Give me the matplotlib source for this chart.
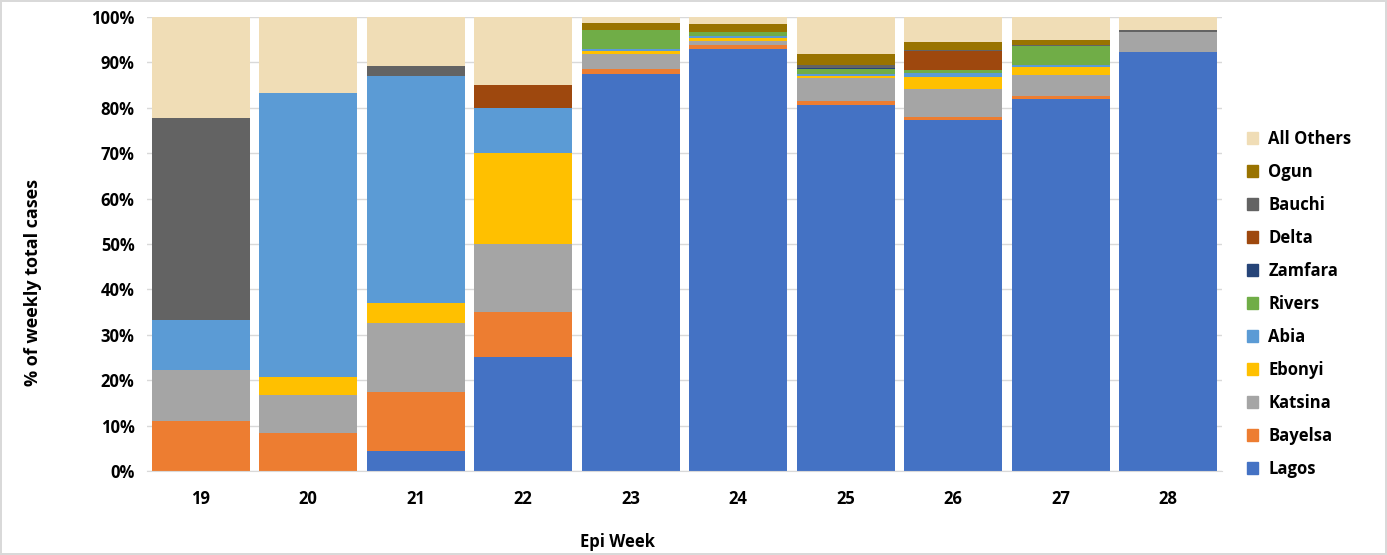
import numpy as np
import matplotlib.pyplot as plt
from matplotlib.patches import Patch

plt.rcParams['font.family'] = ['Open Sans', 'DejaVu Sans']
plt.rcParams['font.weight'] = 'bold'

# epi weeks on the x axis
weeks = ['19', '20', '21', '22', '23', '24', '25', '26', '27', '28']

# % share of weekly cases per state
lagos   = [0, 0, 4.3, 25, 87.5, 92.9, 80.7, 77.3, 81.9, 92.3]
bayelsa = [11.1, 8.3, 13.1, 10, 1.0, 1.0, 0.9, 0.7, 0.7, 0]
katsina = [11.1, 8.4, 15.2, 15, 3.4, 0.9, 5.0, 6.1, 4.6, 4.4]
ebonyi  = [0, 4.1, 4.4, 20, 0.5, 0.6, 0.5, 2.7, 1.8, 0]
abia    = [11.1, 62.5, 50, 10, 0.5, 0.4, 0.3, 0.8, 0.4, 0]
rivers  = [0, 0, 0, 0, 4.2, 0.9, 1.1, 0.8, 4.1, 0]
zamfara = [0, 0, 0, 0, 0, 0, 0.2, 0, 0, 0]
delta   = [0, 0, 0, 5, 0, 0, 0, 4.0, 0, 0]
bauchi  = [44.5, 0, 2.1, 0, 0, 0, 0.7, 0.3, 0.4, 0.5]
ogun    = [0, 0, 0, 0, 1.5, 1.7, 2.5, 1.7, 1.0, 0]

series = ['Lagos', 'Bayelsa', 'Katsina', 'Ebonyi', 'Abia', 'Rivers',
          'Zamfara', 'Delta', 'Bauchi', 'Ogun']
values = [lagos, bayelsa, katsina, ebonyi, abia, rivers, zamfara, delta, bauchi, ogun]
colors = ['#4472C4', '#ED7D31', '#A5A5A5', '#FFC000', '#5B9BD5', '#70AD47',
          '#264478', '#9E480E', '#636363', '#997300']
others_color = '#F0DDB6'

fig = plt.figure(figsize=(13.87, 5.55), dpi=100)
fig.patch.set_edgecolor('#D9D9D9')
fig.patch.set_linewidth(1.5)
ax = fig.add_axes([0.106, 0.1514, 0.775, 0.818])

x = np.arange(len(weeks))
bottom = np.zeros(len(weeks))
for name, vals, c in zip(series, values, colors):
    ax.bar(x, vals, 0.91, bottom=bottom, color=c, label=name, zorder=2)
    bottom += np.array(vals)
# whatever is left goes to "All Others"
rest = 100 - bottom
ax.bar(x, rest, 0.91, bottom=bottom, color=others_color, label='All Others', zorder=2)

ax.set_xlim(-0.5, len(weeks) - 0.5)
ax.set_ylim(0, 100)
ax.set_yticks(np.arange(0, 101, 10))
ax.set_yticklabels([f'{v}%' for v in range(0, 101, 10)], fontsize=12, fontweight='bold')
ax.set_xticks(x)
ax.set_xticklabels(weeks, fontsize=12, fontweight='bold')
ax.tick_params(axis='both', length=0, pad=9)
ax.tick_params(axis='x', pad=14)
ax.yaxis.grid(True, color='#D9D9D9', linewidth=1, zorder=0)
for s in ['top', 'right', 'left']:
    ax.spines[s].set_visible(False)
ax.spines['bottom'].set_color('#D9D9D9')
# axis titles placed where the original has them (not centred on the axes)
fig.text(33 / 1387, 1 - 282 / 555, '% of weekly total cases', rotation=90,
         ha='center', va='center', fontsize=13, fontweight='bold')
fig.text(618 / 1387, 1 - 542 / 555, 'Epi Week', ha='center', va='center',
         fontsize=12, fontweight='bold')

handles = [Patch(color=others_color, label='All Others')]
for name, c in zip(series[::-1], colors[::-1]):
    handles.append(Patch(color=c, label=name))
fig.legend(handles=handles, loc='upper left', bbox_to_anchor=(0.888, 0.793),
           frameon=False, prop={'weight': 'bold', 'size': 12},
           handlelength=0.7, handleheight=0.7, labelspacing=0.9, handletextpad=0.6)

fig.savefig('out.png', dpi=100)
